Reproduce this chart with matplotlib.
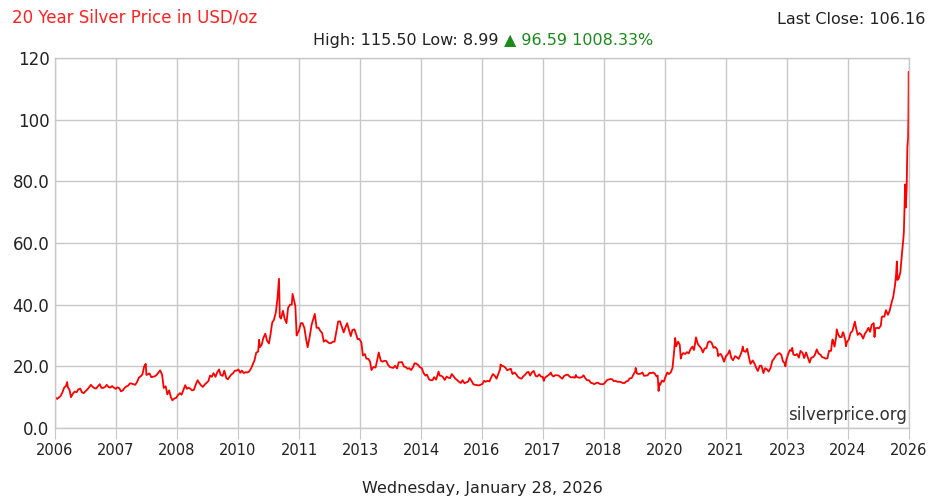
import matplotlib
matplotlib.use("Agg")
import matplotlib.pyplot as plt
import matplotlib.dates as mdates
import numpy as np
import pandas as pd

# ---- data: (month-day, USD/oz), per year ----
p2006 = [("01-28", 9.8), ("02-01", 9.9), ("02-15", 9.4), ("03-01", 9.9), ("03-15", 10.3),
         ("04-01", 11.5), ("04-15", 13.0), ("05-01", 13.6), ("05-12", 14.9), ("05-18", 13.2),
         ("06-01", 12.4), ("06-14", 10.0), ("07-01", 11.2), ("07-15", 11.8), ("08-01", 11.6),
         ("08-15", 12.5), ("09-01", 12.8), ("09-15", 11.6), ("10-01", 11.3), ("10-15", 11.9),
         ("11-01", 12.5), ("11-15", 13.2), ("12-01", 14.0), ("12-15", 13.4)]
p2007 = [("01-01", 12.9), ("01-15", 12.8), ("02-01", 13.6), ("02-15", 14.2), ("03-01", 13.0),
         ("03-15", 13.0), ("04-01", 13.3), ("04-15", 14.0), ("05-01", 13.3), ("05-15", 13.1),
         ("06-01", 13.6), ("06-15", 13.1), ("07-01", 12.7), ("07-15", 13.2), ("08-01", 12.9),
         ("08-15", 11.9), ("09-01", 12.2), ("09-15", 13.0), ("10-01", 13.5), ("10-15", 13.7),
         ("11-01", 14.5), ("11-15", 14.4), ("12-01", 14.2), ("12-15", 14.0)]
p2008 = [("01-01", 15.0), ("01-15", 16.3), ("02-01", 16.8), ("02-15", 17.4), ("03-01", 20.0),
         ("03-14", 20.8), ("03-20", 17.2), ("04-01", 17.4), ("04-15", 17.7), ("05-01", 16.5),
         ("05-15", 16.6), ("06-01", 16.8), ("06-15", 17.2), ("07-01", 18.0), ("07-15", 18.7),
         ("08-01", 17.3), ("08-15", 13.0), ("09-01", 13.5), ("09-15", 10.9), ("10-01", 12.2),
         ("10-15", 10.0), ("10-28", 8.99), ("11-15", 9.6), ("12-01", 9.8), ("12-15", 10.7)]
p2009 = [("01-01", 11.3), ("01-15", 10.8), ("02-01", 12.5), ("02-15", 13.9), ("03-01", 12.7),
         ("03-15", 13.1), ("04-01", 12.7), ("04-15", 12.2), ("05-01", 12.4), ("05-15", 14.0),
         ("06-01", 15.5), ("06-15", 14.6), ("07-01", 13.8), ("07-15", 13.3), ("08-01", 14.1),
         ("08-15", 14.6), ("09-01", 15.2), ("09-15", 17.0), ("10-01", 16.6), ("10-15", 17.8),
         ("11-01", 16.6), ("11-15", 18.0), ("12-01", 19.0), ("12-15", 17.2)]
p2010 = [("01-01", 16.9), ("01-15", 18.6), ("02-01", 16.2), ("02-15", 15.8), ("03-01", 16.6),
         ("03-15", 17.3), ("04-01", 17.8), ("04-15", 18.6), ("05-01", 18.6), ("05-15", 19.0),
         ("06-01", 17.9), ("06-15", 18.6), ("07-01", 17.8), ("07-15", 18.1), ("08-01", 18.0),
         ("08-15", 18.3), ("09-01", 19.3), ("09-15", 20.6), ("10-01", 22.0), ("10-15", 24.4),
         ("11-01", 24.8), ("11-09", 28.6), ("11-15", 26.2), ("12-01", 27.0), ("12-15", 29.2)]
p2011 = [("01-01", 30.6), ("01-15", 28.4), ("02-01", 27.4), ("02-15", 30.5), ("03-01", 34.2),
         ("03-15", 35.0), ("04-01", 37.5), ("04-15", 42.0), ("04-28", 48.4), ("05-05", 36.0),
         ("05-15", 35.5), ("06-01", 38.0), ("06-15", 35.5), ("07-01", 34.0), ("07-15", 39.0),
         ("08-01", 40.0), ("08-15", 40.0), ("08-22", 43.5), ("09-01", 41.8), ("09-15", 39.5),
         ("09-26", 30.0), ("10-01", 30.5), ("10-15", 31.5), ("11-01", 34.0), ("11-15", 34.0),
         ("12-01", 32.5), ("12-15", 29.0), ("12-29", 26.2)]
p2012 = [("01-15", 29.5), ("02-01", 33.5), ("02-28", 37.0), ("03-15", 32.5), ("04-01", 32.5),
         ("04-15", 31.5), ("05-01", 30.8), ("05-15", 28.0), ("06-01", 28.5), ("06-15", 28.0),
         ("07-01", 27.5), ("07-15", 27.5), ("08-01", 28.0), ("08-15", 28.0), ("09-01", 31.5),
         ("09-15", 34.5), ("10-01", 34.6), ("10-15", 33.0), ("11-01", 31.0), ("11-15", 32.5),
         ("12-01", 34.0), ("12-15", 32.0)]
p2013 = [("01-01", 29.8), ("01-15", 31.8), ("02-01", 32.0), ("02-15", 30.5), ("03-01", 28.8),
         ("03-15", 28.9), ("04-01", 27.8), ("04-15", 23.5), ("05-01", 24.0), ("05-15", 22.5),
         ("06-01", 22.4), ("06-15", 21.5), ("06-27", 18.8), ("07-15", 19.8), ("08-01", 19.6),
         ("08-15", 22.0), ("08-28", 24.5), ("09-15", 21.8), ("10-01", 21.5), ("10-15", 21.8),
         ("11-01", 21.7), ("11-15", 20.5), ("12-01", 19.8), ("12-15", 19.6)]
p2014 = [("01-01", 19.5), ("01-15", 20.2), ("02-01", 19.3), ("02-15", 21.3), ("03-01", 21.3),
         ("03-15", 21.4), ("04-01", 19.9), ("04-15", 19.8), ("05-01", 19.2), ("05-15", 19.4),
         ("06-01", 18.8), ("06-15", 19.6), ("07-01", 21.0), ("07-15", 20.9), ("08-01", 20.4),
         ("08-15", 19.7), ("09-01", 19.4), ("09-15", 17.9), ("10-01", 17.0), ("10-15", 17.3),
         ("11-01", 15.8), ("11-15", 15.5), ("12-01", 15.5), ("12-15", 16.5)]
p2015 = [("01-01", 15.7), ("01-15", 17.5), ("01-22", 18.3), ("02-01", 17.0), ("02-15", 16.9),
         ("03-01", 16.5), ("03-15", 15.6), ("04-01", 16.7), ("04-15", 16.3), ("05-01", 16.2),
         ("05-15", 17.5), ("06-01", 16.7), ("06-15", 16.0), ("07-01", 15.5), ("07-15", 15.0),
         ("08-01", 14.6), ("08-15", 15.5), ("09-01", 14.5), ("09-15", 14.8), ("10-01", 15.0),
         ("10-15", 16.2), ("11-01", 15.2), ("11-15", 14.2), ("12-01", 14.0), ("12-15", 13.9)]
p2016 = [("01-01", 13.8), ("01-15", 14.0), ("02-01", 14.3), ("02-15", 15.3), ("03-01", 15.0),
         ("03-15", 15.3), ("04-01", 15.1), ("04-15", 16.3), ("05-01", 17.5), ("05-15", 17.0),
         ("06-01", 16.0), ("06-15", 17.4), ("07-01", 19.0), ("07-05", 20.6), ("07-15", 20.2),
         ("08-01", 20.0), ("08-15", 19.6), ("09-01", 18.7), ("09-15", 19.0), ("10-01", 19.2),
         ("10-15", 17.5), ("11-01", 18.0), ("11-15", 17.5), ("12-01", 16.6), ("12-15", 16.2)]
p2017 = [("01-01", 16.0), ("01-15", 16.7), ("02-01", 17.3), ("02-15", 18.0), ("03-01", 18.2),
         ("03-15", 17.0), ("04-01", 18.1), ("04-15", 18.5), ("05-01", 16.9), ("05-15", 16.7),
         ("06-01", 17.4), ("06-15", 16.7), ("07-01", 16.6), ("07-10", 15.3), ("07-15", 16.0),
         ("08-01", 16.7), ("08-15", 17.0), ("09-01", 17.6), ("09-08", 18.0), ("09-15", 17.3),
         ("10-01", 16.7), ("10-15", 17.1), ("11-01", 17.1), ("11-15", 17.0), ("12-01", 16.4),
         ("12-15", 16.0)]
p2018 = [("01-01", 16.9), ("01-15", 17.2), ("02-01", 17.3), ("02-15", 16.7), ("03-01", 16.4),
         ("03-15", 16.5), ("04-01", 16.3), ("04-11", 17.2), ("04-15", 16.6), ("05-01", 16.4),
         ("05-15", 16.3), ("06-01", 16.5), ("06-15", 17.1), ("07-01", 16.1), ("07-15", 15.5),
         ("08-01", 15.5), ("08-15", 14.7), ("09-01", 14.5), ("09-15", 14.2), ("10-01", 14.6),
         ("10-15", 14.7), ("11-01", 14.3), ("11-15", 14.2), ("12-01", 14.2), ("12-15", 14.7)]
p2019 = [("01-01", 15.5), ("01-15", 15.7), ("02-01", 15.9), ("02-15", 15.8), ("03-01", 15.2),
         ("03-15", 15.3), ("04-01", 15.0), ("04-15", 15.0), ("05-01", 14.9), ("05-15", 14.6),
         ("06-01", 14.6), ("06-15", 15.1), ("07-01", 15.3), ("07-15", 16.1), ("08-01", 16.2),
         ("08-15", 17.3), ("09-01", 18.4), ("09-04", 19.5), ("09-15", 17.7), ("10-01", 17.5),
         ("10-15", 17.6), ("11-01", 18.0), ("11-15", 16.9), ("12-01", 17.0), ("12-15", 17.1)]
p2020 = [("01-01", 17.9), ("01-15", 17.8), ("02-01", 18.0), ("02-15", 17.6), ("03-01", 16.7),
         ("03-10", 17.0), ("03-18", 12.0), ("03-25", 14.5), ("04-01", 14.0), ("04-15", 15.4),
         ("05-01", 15.0), ("05-15", 16.5), ("06-01", 18.0), ("06-15", 17.5), ("07-01", 18.1),
         ("07-15", 19.5), ("07-28", 24.5), ("08-07", 29.2), ("08-15", 26.5), ("09-01", 28.0),
         ("09-15", 27.0), ("09-24", 22.5), ("10-01", 23.6), ("10-15", 24.3), ("11-01", 24.0),
         ("11-15", 24.6), ("12-01", 24.2), ("12-15", 25.5)]
p2021 = [("01-01", 26.4), ("01-15", 25.3), ("02-01", 29.4), ("02-15", 27.4), ("03-01", 26.6),
         ("03-15", 26.0), ("04-01", 24.5), ("04-15", 25.8), ("05-01", 25.9), ("05-15", 27.8),
         ("06-01", 28.1), ("06-15", 27.6), ("07-01", 26.0), ("07-15", 26.3), ("08-01", 25.5),
         ("08-10", 23.3), ("08-15", 23.8), ("09-01", 24.0), ("09-15", 23.0), ("09-29", 21.5),
         ("10-15", 23.3), ("11-01", 24.0), ("11-15", 25.2), ("12-01", 22.6), ("12-15", 22.0)]
p2022 = [("01-01", 23.3), ("01-15", 23.0), ("02-01", 22.4), ("02-15", 23.6), ("03-01", 25.0),
         ("03-08", 26.4), ("03-15", 25.0), ("04-01", 24.7), ("04-15", 25.7), ("05-01", 22.7),
         ("05-13", 20.8), ("06-01", 21.9), ("06-15", 21.0), ("07-01", 19.5), ("07-15", 18.5),
         ("08-01", 20.2), ("08-15", 20.2), ("09-01", 17.8), ("09-15", 19.4), ("10-01", 19.0),
         ("10-15", 18.3), ("11-01", 19.5), ("11-15", 21.7), ("12-01", 22.5), ("12-15", 23.4)]
p2023 = [("01-01", 24.0), ("01-15", 24.3), ("02-01", 23.7), ("02-15", 21.6), ("03-01", 21.0),
         ("03-08", 20.0), ("03-15", 22.0), ("04-01", 24.0), ("04-15", 25.3), ("05-01", 25.0),
         ("05-05", 26.0), ("05-15", 23.8), ("06-01", 23.6), ("06-15", 24.0), ("07-01", 22.8),
         ("07-15", 25.0), ("08-01", 24.4), ("08-15", 22.7), ("09-01", 24.5), ("09-15", 23.0),
         ("10-01", 21.2), ("10-15", 22.8), ("11-01", 23.0), ("11-15", 23.7), ("12-01", 25.5),
         ("12-15", 24.2)]
p2024 = [("01-01", 23.8), ("01-15", 23.0), ("02-01", 22.8), ("02-15", 22.5), ("03-01", 22.6),
         ("03-15", 25.0), ("04-01", 25.0), ("04-12", 28.5), ("04-15", 28.7), ("05-01", 26.4),
         ("05-15", 29.6), ("05-20", 32.0), ("06-01", 30.4), ("06-15", 29.5), ("07-01", 29.5),
         ("07-10", 31.0), ("07-15", 31.0), ("08-01", 28.5), ("08-07", 26.5), ("08-15", 27.8),
         ("09-01", 28.8), ("09-15", 30.8), ("10-01", 31.5), ("10-22", 34.5), ("11-01", 32.5),
         ("11-15", 30.2), ("12-01", 30.8), ("12-15", 30.3)]
p2025 = [("01-01", 29.0), ("01-15", 30.5), ("02-01", 31.5), ("02-15", 32.5), ("03-01", 31.2),
         ("03-15", 33.5), ("04-01", 34.0), ("04-08", 29.5), ("04-15", 32.3), ("05-01", 32.5),
         ("05-15", 32.3), ("06-01", 33.2), ("06-09", 36.0), ("06-15", 36.2), ("07-01", 36.1),
         ("07-15", 38.2), ("08-01", 36.7), ("08-15", 38.0), ("09-01", 40.7), ("09-15", 42.5),
         ("10-01", 46.5), ("10-10", 50.0), ("10-16", 54.0), ("10-21", 48.0), ("11-01", 48.5),
         ("11-15", 50.5), ("12-01", 57.5), ("12-10", 61.0), ("12-15", 63.5), ("12-26", 79.0),
         ("12-29", 72.0)]
p2026 = [("01-01", 71.5), ("01-08", 78.0), ("01-14", 91.0), ("01-20", 94.0), ("01-23", 101.0),
         ("01-26", 115.5), ("01-27", 108.0), ("01-28", 106.16)]

years = {2006: p2006, 2007: p2007, 2008: p2008, 2009: p2009, 2010: p2010, 2011: p2011,
         2012: p2012, 2013: p2013, 2014: p2014, 2015: p2015, 2016: p2016, 2017: p2017,
         2018: p2018, 2019: p2019, 2020: p2020, 2021: p2021, 2022: p2022, 2023: p2023,
         2024: p2024, 2025: p2025, 2026: p2026}

x_tick_labels = ["2006", "2007", "2008", "2010", "2011", "2013", "2014", "2016",
                 "2017", "2018", "2020", "2021", "2023", "2024", "2026"]
y_ticks = [0, 20, 40, 60, 80, 100, 120]
y_tick_labels = ["0.0", "20.0", "40.0", "60.0", "80.0", "100", "120"]

title = "20 Year Silver Price in USD/oz"
last_close = "Last Close: 106.16"
stats_black = "High: 115.50 Low: 8.99 "
stats_green = "\u25B2 96.59 1008.33%"
date_text = "Wednesday, January 28, 2026"
watermark = "silverprice.org"

rows = []
for yr, pts in years.items():
    for md, v in pts:
        rows.append((pd.Timestamp(f"{yr}-{md}"), v))
df = pd.DataFrame(rows, columns=["date", "price"]).sort_values("date")

plt.rcParams['font.family'] = ['DejaVu Sans']

fig = plt.figure(figsize=(9.37, 4.96), dpi=100)
ax = fig.add_axes([55/937, 1-428/496, (909-55)/937, (428-58)/496])

ax.plot(df["date"], df["price"], color="#ff0000", lw=1.3)

start = df["date"].iloc[0]
end = df["date"].iloc[-1]
ax.set_xlim(start, end)
ax.set_ylim(0, 120)

s_num = mdates.date2num(start)
e_num = mdates.date2num(end)
xt = np.linspace(s_num, e_num, len(x_tick_labels))
ax.set_xticks(xt)
ax.set_xticklabels(x_tick_labels, fontsize=10.5, color="#222222")
ax.set_yticks(y_ticks)
ax.set_yticklabels(y_tick_labels, fontsize=12, color="#222222")

ax.grid(True, color="#c8c8c8", lw=1.0)
ax.set_axisbelow(True)
for sp in ax.spines.values():
    sp.set_color("#c8c8c8")
    sp.set_linewidth(1.0)
ax.tick_params(axis="x", length=8, color="#c8c8c8", pad=3)
ax.tick_params(axis="y", length=0, pad=4)

fig.text(12/937, 1-18/496, title, color="#ff2020", fontsize=12, va="center", ha="left")
fig.text(925/937, 1-20/496, last_close, color="#222222", fontsize=11.5, va="center", ha="right")
t1 = fig.text(313/937, 1-40/496, stats_black, color="#222222", fontsize=11.5, va="center", ha="left")
fig.canvas.draw()
bb = t1.get_window_extent()
fig.text(bb.x1/937, 1-40/496, stats_green, color="#1a8a1a", fontsize=11.5, va="center", ha="left")
fig.text(482/937, 1-488/496, date_text, color="#222222", fontsize=11.5, va="center", ha="center")
ax.text(0.997, 0.012, watermark, transform=ax.transAxes, fontsize=12, color="#333333",
        ha="right", va="bottom")

fig.savefig("out.png", dpi=100)
